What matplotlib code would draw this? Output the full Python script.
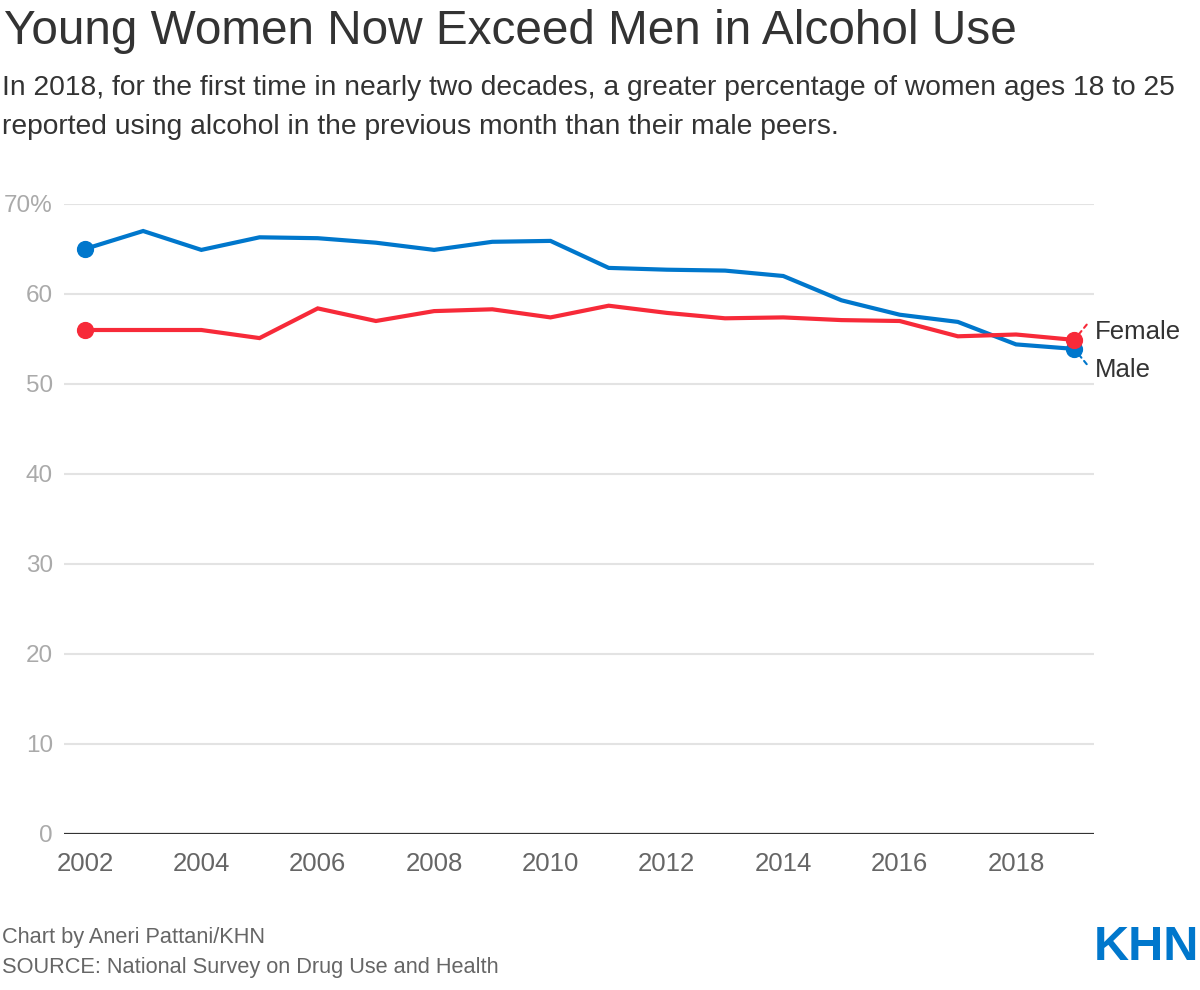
import matplotlib
matplotlib.use("Agg")
import matplotlib.pyplot as plt

plt.rcParams['font.family'] = ['Liberation Sans', 'DejaVu Sans']

years = list(range(2002, 2020))
male = [65.0, 67.0, 64.9, 66.3, 66.2, 65.7, 64.9, 65.8, 65.9,
        62.9, 62.7, 62.6, 62.0, 59.3, 57.7, 56.9, 54.4, 53.9]
female = [56.0, 56.0, 56.0, 55.1, 58.4, 57.0, 58.1, 58.3, 57.4,
          58.7, 57.9, 57.3, 57.4, 57.1, 57.0, 55.3, 55.5, 54.9]
yticks = [0, 10, 20, 30, 40, 50, 60, 70]
ytick_labels = ['0', '10', '20', '30', '40', '50', '60', '70%']
xticks = [2002, 2004, 2006, 2008, 2010, 2012, 2014, 2016, 2018]

blue = '#0077cc'
red = '#f72a39'
dark = '#333333'

fig = plt.figure(figsize=(12, 9.9), dpi=100)
ax = fig.add_axes([64 / 1200, 1 - 834 / 990, (1094 - 64) / 1200, (834 - 204) / 990])

# lines
ax.plot(years, male, color=blue, lw=3, solid_joinstyle='miter', zorder=3, clip_on=False)
ax.plot(years, female, color=red, lw=3, solid_joinstyle='miter', zorder=3, clip_on=False)

# end dots
for s, c in [(male, blue), (female, red)]:
    ax.scatter([years[0], years[-1]], [s[0], s[-1]], s=130, color=c, zorder=4, clip_on=False)

ax.set_xlim(2001.64, 2019.34)
ax.set_ylim(0, 70)

# gridlines
for t in yticks[1:]:
    ax.axhline(t, color='#e3e3e3', lw=1.5, zorder=1)
ax.axhline(0, color=dark, lw=1.6, zorder=2)

ax.set_yticks(yticks)
ax.set_yticklabels(ytick_labels)
ax.set_xticks(xticks)
ax.tick_params(axis='y', length=0, pad=8, labelsize=17.5, labelcolor='#aaaaaa')
ax.tick_params(axis='x', length=0, pad=13, labelsize=18.5, labelcolor='#666666')
for sp in ax.spines.values():
    sp.set_visible(False)

# labels at the end
ax.annotate('Female', xy=(years[-1], female[-1]), xytext=(15, 5.5), textcoords='offset points',
            fontsize=18.5, color=dark, va='center', ha='left', annotation_clip=False)
ax.annotate('Male', xy=(years[-1], male[-1]), xytext=(15, -15), textcoords='offset points',
            fontsize=18.5, color=dark, va='center', ha='left', annotation_clip=False)
# short dashed leader lines
ax.annotate('', xy=(years[-1], female[-1]), xytext=(9, 11), textcoords='offset points',
            annotation_clip=False,
            arrowprops=dict(arrowstyle='-', color=red, ls=(0, (2, 2)), lw=1.5,
                            shrinkA=0, shrinkB=5))
ax.annotate('', xy=(years[-1], male[-1]), xytext=(9, -11), textcoords='offset points',
            annotation_clip=False,
            arrowprops=dict(arrowstyle='-', color=blue, ls=(0, (2, 2)), lw=1.5,
                            shrinkA=0, shrinkB=5))

# titles
fig.text(4 / 1200, 1 - 31 / 990, 'Young Women Now Exceed Men in Alcohol Use',
         fontsize=34.4, color=dark, va='center', ha='left')
fig.text(2 / 1200, 1 - 88 / 990, 'In 2018, for the first time in nearly two decades, a greater percentage of women ages 18 to 25',
         fontsize=20.3, color=dark, va='center', ha='left')
fig.text(2 / 1200, 1 - 127 / 990, 'reported using alcohol in the previous month than their male peers.',
         fontsize=20.3, color=dark, va='center', ha='left')

# footer
fig.text(2 / 1200, 1 - 937 / 990, 'Chart by Aneri Pattani/KHN', fontsize=15.7, color='#666666',
         va='center', ha='left')
fig.text(2 / 1200, 1 - 967 / 990, 'SOURCE: National Survey on Drug Use and Health', fontsize=15.7,
         color='#666666', va='center', ha='left')
fig.text(1199 / 1200, 1 - 948 / 990, 'KHN', fontsize=35, color=blue, fontweight='bold',
         va='center', ha='right')

fig.savefig('out.png', dpi=100, facecolor='white')
